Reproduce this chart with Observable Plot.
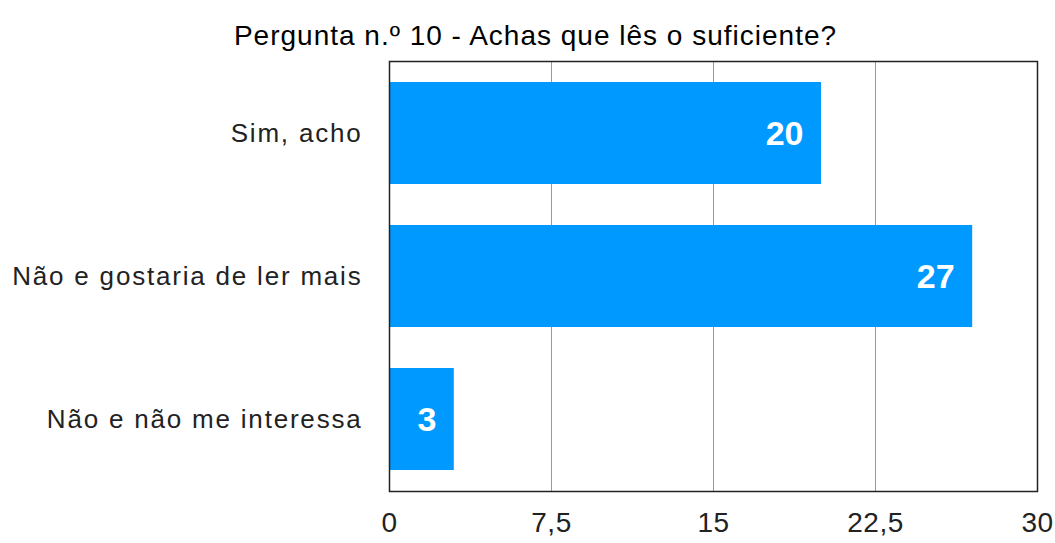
<!DOCTYPE html>
<html>
<head>
<meta charset="utf-8">
<script src="https://cdn.jsdelivr.net/npm/d3@7"></script>
<script src="https://cdn.jsdelivr.net/npm/@observablehq/plot@0.6"></script>
<style>
  body { margin: 0; background: #fff; font-family: "Liberation Sans", Arial, sans-serif; }
  #title { height: 55px; width: 1055px; text-align: center; font-size: 28px; line-height: 72px; color: #000; padding-left: 16px; box-sizing: border-box; letter-spacing: 1px; }
  g[aria-label="y-axis tick label"] text { letter-spacing: 1.8px; }
  g[aria-label="x-axis tick label"] text { letter-spacing: 0.5px; }
</style>
</head>
<body>
<div id="title">Pergunta n.º 10 - Achas que lês o suficiente?</div>
<div id="chart"></div>
<script>
const categories = ["Sim, acho", "Não e gostaria de ler mais", "Não e não me interessa"];
const values = [20, 27, 3];
const xTicks = [0, 7.5, 15, 22.5, 30];
const gridTicks = [7.5, 15, 22.5];

const data = categories.map((c, i) => ({category: c, value: values[i]}));
const fmt = d => String(d).replace(".", ",");

const chart = Plot.plot({
  width: 1055,
  height: 488,
  marginTop: 6,
  marginBottom: 52,
  marginLeft: 389,
  marginRight: 18,
  style: {fontFamily: "'Liberation Sans', Arial, sans-serif", background: "#fff"},
  x: {domain: [0, 30], ticks: xTicks, tickFormat: fmt, label: null},
  y: {domain: categories, paddingInner: 0.287, paddingOuter: 0.144, label: null},
  marks: [
    Plot.ruleX(gridTicks, {stroke: "#999", strokeWidth: 1}),
    Plot.barX(data, {x: "value", y: "category", fill: "#0099ff"}),
    Plot.text(data, {x: "value", y: "category", text: d => String(d.value), textAnchor: "end", dx: -18, dy: 1, fill: "#fff", fontSize: 34, fontWeight: "bold"}),
    Plot.frame({stroke: "#222", strokeWidth: 1.5}),
    Plot.axisX({ticks: xTicks, tickFormat: fmt, tickSize: 0, tickPadding: 21, fontSize: 28, color: "#222", label: null}),
    Plot.axisY({tickSize: 0, tickPadding: 27, fontSize: 26, color: "#222", label: null})
  ]
});
document.getElementById("chart").appendChild(chart);
</script>
</body>
</html>
